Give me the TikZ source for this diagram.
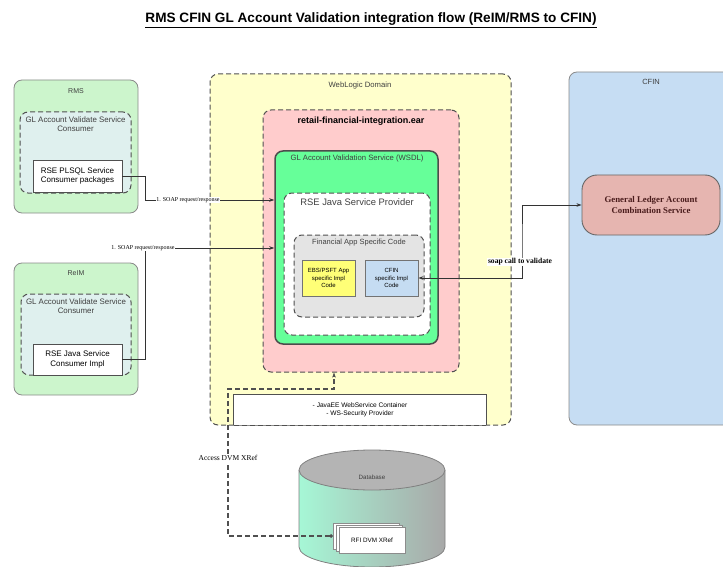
\documentclass[tikz,border=0pt]{standalone}
\usepackage{fontspec}
\setmainfont{Liberation Sans}
\newfontfamily\serifb{Liberation Serif}
\usetikzlibrary{arrows.meta}
\definecolor{appgreen}{HTML}{CCF5CC}
\definecolor{consbg}{HTML}{DFF0EE}
\definecolor{wlyellow}{HTML}{FFFFCC}
\definecolor{earpink}{HTML}{FFCCCC}
\definecolor{wsdlgreen}{HTML}{66FF99}
\definecolor{fingray}{HTML}{E4E4E4}
\definecolor{implyellow}{HTML}{FFFF77}
\definecolor{implblue}{HTML}{C5DCF2}
\definecolor{cfinblue}{HTML}{C6DDF3}
\definecolor{glspink}{HTML}{E6B5B0}
\definecolor{glstext}{HTML}{4A1C1C}
\definecolor{bordgray}{HTML}{8A8A8A}
\definecolor{dashgray}{HTML}{505050}
\definecolor{dbgreen}{HTML}{A6F7D6}
\definecolor{dbgray}{HTML}{A8A8A8}
\definecolor{dbtop}{HTML}{B4B4B4}
\tikzset{
  box/.style={draw=bordgray, line width=0.8pt, rounded corners=8pt, inner sep=0pt},
  dbox/.style={draw=dashgray, line width=1pt, dash pattern=on 5pt off 3pt, rounded corners=8pt, inner sep=0pt},
  plain/.style={draw=dashgray, line width=0.6pt, fill=white, inner sep=0pt, align=center},
  lbl/.style={inner sep=0.5pt, align=center, text=black!75},
  arr/.style={draw=black!80, line width=0.7pt, -{Stealth[length=5pt,width=3.5pt]}},
  darr/.style={draw=black!80, line width=0.7pt, {Stealth[length=5pt,width=3.5pt]}-{Stealth[length=5pt,width=3.5pt]}},
  dline/.style={draw=dashgray, line width=1.1pt, dash pattern=on 5pt off 3pt, {Circle[length=3.5pt]}-{Stealth[length=5pt,width=3.5pt]}},
  wlab/.style={fill=white, inner sep=0.8pt},
}
\begin{document}
\begin{tikzpicture}[x=1pt,y=-1pt]
\useasboundingbox (0,0) rectangle (723,567);
\clip (0,0) rectangle (723,567);
% title
\node (title) at (371,20) [font=\fontsize{13.6}{15}\selectfont\bfseries] {\underline{RMS CFIN GL Account Validation integration flow (ReIM/RMS to CFIN)}};
% RMS
\node[box, fill=appgreen, minimum width=124pt, minimum height=133pt] (rms) at (76,146.5) {};
\node[lbl, font=\fontsize{7}{8}\selectfont] (rmsl) at (76,91) {RMS};
\node[dbox, fill=consbg, minimum width=111pt, minimum height=81pt] (rmsc) at (75.5,152.5) {};
\node[lbl, font=\fontsize{7.9}{9.2}\selectfont] (rmscl) at (75.5,124) {GL Account Validate Service\\Consumer};
\node[plain, minimum width=89pt, minimum height=32pt, font=\fontsize{8}{9.6}\selectfont] (rmspk) at (77.5,176) {RSE PLSQL Service\\Consumer packages};
% ReIM
\node[box, fill=appgreen, minimum width=124pt, minimum height=132pt] (reim) at (76,329) {};
\node[lbl, font=\fontsize{7}{8}\selectfont] (reiml) at (76,273) {ReIM};
\node[dbox, fill=consbg, minimum width=110pt, minimum height=81pt] (reimc) at (76,334.5) {};
\node[lbl, font=\fontsize{7.9}{9.2}\selectfont] (reimcl) at (76,306) {GL Account Validate Service\\Consumer};
\node[plain, minimum width=89pt, minimum height=31pt, font=\fontsize{8}{9.6}\selectfont] (reimpk) at (77.5,359.5) {RSE Java Service\\Consumer Impl};
% CFIN
\node[box, fill=cfinblue, minimum width=171pt, minimum height=353pt] (cfin) at (654.5,248.5) {};
\node[lbl, font=\fontsize{7.5}{8.5}\selectfont] (cfinl) at (651,82) {CFIN};
\node[draw=black!60, line width=0.9pt, fill=glspink, rounded corners=15pt, minimum width=138pt, minimum height=60pt, align=center, text=glstext, font=\serifb\fontsize{8.8}{10.5}\selectfont\bfseries] (gls) at (651,205) {General Ledger Account\\Combination Service};
% WebLogic
\node[dbox, fill=wlyellow, minimum width=301pt, minimum height=351pt] (wl) at (360.5,249.5) {};
\node[lbl, font=\fontsize{7.7}{8.5}\selectfont] (wll) at (360,86) {WebLogic Domain};
\node[dbox, fill=earpink, minimum width=196pt, minimum height=262pt] (ear) at (361,241) {};
\node[lbl, text=black, font=\fontsize{9}{10}\selectfont\bfseries] (earl) at (361,121) {retail-financial-integration.ear};
\node[draw=black!70, line width=1.5pt, fill=wsdlgreen, rounded corners=8pt, minimum width=163pt, minimum height=193pt] (wsdl) at (356.5,247.5) {};
\node[lbl, font=\fontsize{7.7}{8.5}\selectfont] (wsdll) at (357,159) {GL Account Validation Service (WSDL)};
\node[dbox, fill=white, minimum width=146pt, minimum height=142pt] (prov) at (357,264) {};
\node[lbl, font=\fontsize{9.4}{11}\selectfont] (provl) at (357,202) {RSE Java Service Provider};
\node[dbox, fill=fingray, minimum width=130pt, minimum height=82pt] (fin) at (359,276) {};
\node[lbl, font=\fontsize{7.5}{8.5}\selectfont] (finl) at (359,243) {Financial App Specific Code};
\node[draw=black!55, line width=0.8pt, fill=implyellow, minimum width=53pt, minimum height=36pt, align=center, inner sep=0pt, font=\fontsize{6}{7.4}\selectfont] (ebs) at (328.5,278) {EBS/PSFT App\\specific Impl\\Code};
\node[draw=black!55, line width=0.8pt, fill=implblue, minimum width=53pt, minimum height=36pt, align=center, inner sep=0pt, font=\fontsize{6}{7.4}\selectfont] (cfini) at (391.5,278) {CFIN\\specific Impl\\Code};
% JavaEE container box
\node[fill=white, minimum width=252pt, minimum height=30pt, align=center, inner sep=0pt, font=\fontsize{6.6}{8}\selectfont] (jee) at (360,410) {- JavaEE WebService Container\\- WS-Security Provider};
\draw[draw=dashgray, line width=0.7pt] (jee.south west) -- (jee.north west) -- (jee.north east) -- (jee.south east);
\draw[draw=dashgray, line width=1pt, dash pattern=on 5pt off 3pt] (jee.south west) -- (jee.south east);
% Database cylinder
\path[left color=dbgreen, right color=dbgray] (299,470) -- (299,547) arc[start angle=180, end angle=0, x radius=73, y radius=20] -- (445,470) -- cycle;
\draw[draw=black!50, line width=0.8pt] (299,470) -- (299,547) arc[start angle=180, end angle=0, x radius=73, y radius=20] -- (445,470);
\draw[draw=black!50, line width=0.8pt, fill=dbtop] (372,470) ellipse[x radius=73, y radius=20];
\node[lbl, font=\fontsize{6.2}{7}\selectfont] (dbl) at (372,477) {Database};
\node[draw=black!45, fill=white, minimum width=66pt, minimum height=26pt] (rfib) at (366,536) {};
\node[draw=black!45, fill=white, minimum width=66pt, minimum height=26pt] (rfim) at (369,538) {};
\node[draw=black!45, fill=white, minimum width=66pt, minimum height=26pt, font=\fontsize{6.3}{7}\selectfont] (rfi) at (372,540) {RFI DVM XRef};
% connectors
\draw[arr] (rmspk.east) -| (145,200) -- (wsdl.west |- 0,200);
\node[wlab, font=\serifb\fontsize{6}{6.5}\selectfont] (lab1) at (188,200) {1. SOAP request/response};
\draw[arr] (reimpk.east) -| (145,248) -- (wsdl.west |- 0,248);
\node[wlab, font=\serifb\fontsize{6}{6.5}\selectfont] (lab2) at (143,248) {1. SOAP request/response};
\draw[darr] (cfini.east) -| (522,242) |- (gls.west);
\node[wlab, font=\serifb\fontsize{7.6}{8.5}\selectfont\bfseries] (lab3) at (520,262) {soap call to validate};
\coordinate (acc) at (334,389);
\draw[dline] (rfib.west) -| (228,389) -- (acc) -- (acc |- ear.south);
\node[wlab, font=\serifb\fontsize{7.5}{8.5}\selectfont] (lab4) at (228,458) {Access DVM XRef};
\end{tikzpicture}
\end{document}
